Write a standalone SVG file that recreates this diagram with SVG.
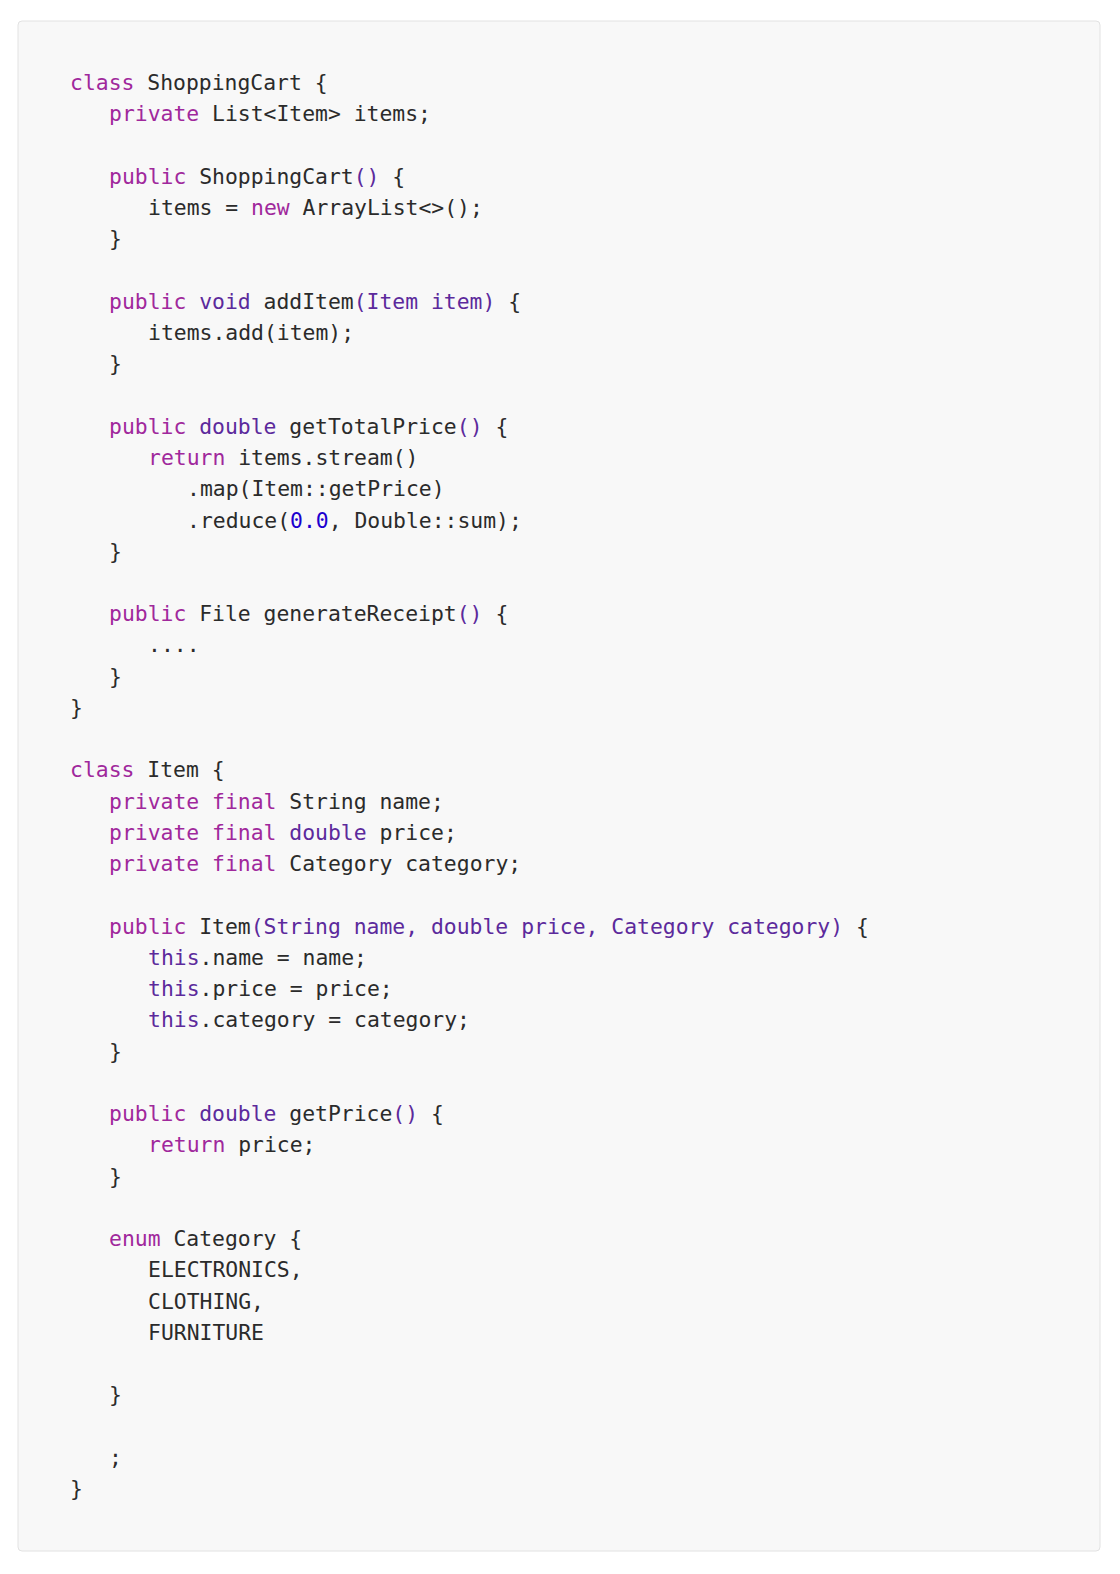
<svg xmlns="http://www.w3.org/2000/svg" width="1120" height="1574" viewBox="0 0 1120 1574">
<style>
text{font-family:"DejaVu Sans Mono","Liberation Mono",monospace;font-size:21.4px;fill:#2b2b2b;white-space:pre}
.k{fill:#a0289c}.t{fill:#5c2a9c}.n{fill:#1c00cf}
</style>
<rect width="1120" height="1574" fill="#ffffff"/>
<g id="codeblock">
<rect x="18" y="21" width="1082" height="1530" rx="4" fill="#f8f8f8" stroke="#e2e2e2"/>
<text x="70" y="90"><tspan class="k">class</tspan> ShoppingCart {</text>
<text x="109" y="121"><tspan class="k">private</tspan> List&lt;Item&gt; items;</text>
<text x="109" y="184"><tspan class="k">public</tspan> ShoppingCart<tspan class="t">()</tspan> {</text>
<text x="148" y="215">items = <tspan class="k">new</tspan> ArrayList&lt;&gt;();</text>
<text x="109" y="246">}</text>
<text x="109" y="309"><tspan class="k">public</tspan> <tspan class="t">void</tspan> addItem<tspan class="t">(Item item)</tspan> {</text>
<text x="148" y="340">items.add(item);</text>
<text x="109" y="371">}</text>
<text x="109" y="434"><tspan class="k">public</tspan> <tspan class="t">double</tspan> getTotalPrice<tspan class="t">()</tspan> {</text>
<text x="148" y="465"><tspan class="k">return</tspan> items.stream()</text>
<text x="187" y="496">.map(Item::getPrice)</text>
<text x="187" y="528">.reduce(<tspan class="n">0.0</tspan>, Double::sum);</text>
<text x="109" y="559">}</text>
<text x="109" y="621"><tspan class="k">public</tspan> File generateReceipt<tspan class="t">()</tspan> {</text>
<text x="148" y="652">....</text>
<text x="109" y="684">}</text>
<text x="70" y="715">}</text>
<text x="70" y="777"><tspan class="k">class</tspan> Item {</text>
<text x="109" y="809"><tspan class="k">private</tspan> <tspan class="k">final</tspan> String name;</text>
<text x="109" y="840"><tspan class="k">private</tspan> <tspan class="k">final</tspan> <tspan class="t">double</tspan> price;</text>
<text x="109" y="871"><tspan class="k">private</tspan> <tspan class="k">final</tspan> Category category;</text>
<text x="109" y="934"><tspan class="k">public</tspan> Item<tspan class="t">(String name, double price, Category category)</tspan> {</text>
<text x="148" y="965"><tspan class="t">this</tspan>.name = name;</text>
<text x="148" y="996"><tspan class="t">this</tspan>.price = price;</text>
<text x="148" y="1027"><tspan class="t">this</tspan>.category = category;</text>
<text x="109" y="1059">}</text>
<text x="109" y="1121"><tspan class="k">public</tspan> <tspan class="t">double</tspan> getPrice<tspan class="t">()</tspan> {</text>
<text x="148" y="1152"><tspan class="k">return</tspan> price;</text>
<text x="109" y="1184">}</text>
<text x="109" y="1246"><tspan class="k">enum</tspan> Category {</text>
<text x="148" y="1277">ELECTRONICS,</text>
<text x="148" y="1309">CLOTHING,</text>
<text x="148" y="1340">FURNITURE</text>
<text x="109" y="1402">}</text>
<text x="109" y="1465">;</text>
<text x="70" y="1496">}</text>
</g>
</svg>
